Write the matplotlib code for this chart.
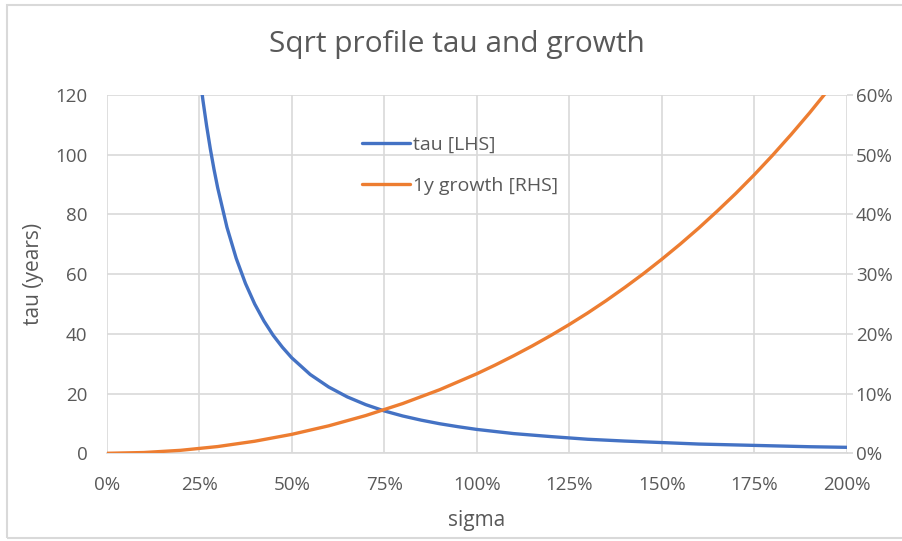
import matplotlib
matplotlib.use("Agg")
import matplotlib.pyplot as plt
from matplotlib.ticker import FuncFormatter, MultipleLocator
from matplotlib.patches import Rectangle

# ---- data ----
tau_sigma = [0.25, 0.26, 0.27, 0.28, 0.29, 0.30, 0.325, 0.35, 0.375, 0.40, 0.425, 0.45, 0.475,
             0.50, 0.55, 0.60, 0.65, 0.70, 0.75, 0.80, 0.85, 0.90, 0.95, 1.00, 1.10, 1.20,
             1.30, 1.40, 1.50, 1.60, 1.70, 1.80, 1.90, 2.00]
tau_values = [128.0, 118.3, 109.7, 102.0, 95.1, 88.9, 75.7, 65.3, 56.9, 50.0, 44.3, 39.5, 35.5,
              32.0, 26.4, 22.2, 18.9, 16.3, 14.2, 12.5, 11.1, 9.9, 8.9, 8.0, 6.6, 5.6,
              4.7, 4.1, 3.6, 3.1, 2.8, 2.5, 2.2, 2.0]

growth_sigma = [0.0, 0.1, 0.2, 0.3, 0.4, 0.5, 0.6, 0.7, 0.8, 0.9, 1.0, 1.05, 1.1, 1.15, 1.2,
                1.25, 1.3, 1.35, 1.4, 1.45, 1.5, 1.55, 1.6, 1.65, 1.7, 1.75, 1.8, 1.85,
                1.9, 1.95, 2.0]
growth_values = [0.0, 0.0013, 0.0050, 0.0113, 0.0202, 0.0317, 0.0460, 0.0632, 0.0833, 0.1065,
                 0.1331, 0.1478, 0.1634, 0.1798, 0.1972, 0.2156, 0.2350, 0.2557, 0.2776,
                 0.3005, 0.3248, 0.3503, 0.3771, 0.4055, 0.4350, 0.4663, 0.4993, 0.5340,
                 0.5703, 0.6086, 0.6487]

title = "Sqrt profile tau and growth"
x_label = "sigma"
y_label = "tau (years)"
tau_label = "tau [LHS]"
growth_label = "1y growth [RHS]"

BLUE = "#4472C4"
ORANGE = "#ED7D31"
GRID = "#D9D9D9"
TXT = "#595959"

plt.rcParams['font.family'] = ['Open Sans', 'DejaVu Sans']

fig = plt.figure(figsize=(9.02, 5.41), dpi=100)
W, H = 902, 541
ax = fig.add_axes([106.7 / W, 1 - 453.3 / H, (846.7 - 106.7) / W, (453.3 - 95) / H])
ax2 = ax.twinx()

# figure frame
fig.patches.append(Rectangle((7 / W, 1 - 538 / H), (910 - 7) / W, (538 - 5) / H,
                             transform=fig.transFigure, fill=False, edgecolor=GRID, lw=1.5))

ax.set_xlim(0, 2)
ax.set_ylim(0, 120)
ax2.set_ylim(0, 0.6)

ax.xaxis.set_major_locator(MultipleLocator(0.25))
ax.yaxis.set_major_locator(MultipleLocator(20))
ax2.yaxis.set_major_locator(MultipleLocator(0.1))
ax.xaxis.set_major_formatter(FuncFormatter(lambda v, p: f"{v*100:.0f}%"))
ax2.yaxis.set_major_formatter(FuncFormatter(lambda v, p: f"{v*100:.0f}%"))

ax.grid(True, color=GRID, lw=1.2)
ax.set_axisbelow(True)
for a in (ax, ax2):
    for s in a.spines.values():
        s.set_visible(False)
ax.spines['bottom'].set_visible(True)
ax.spines['bottom'].set_color(GRID)
ax.spines['bottom'].set_linewidth(1.2)

FS = 13.5
ax.tick_params(axis='x', length=0, pad=16, labelsize=FS, labelcolor=TXT)
ax.tick_params(axis='y', length=0, pad=14, labelsize=FS, labelcolor=TXT)
ax2.tick_params(axis='y', length=4.5, width=1.2, color=GRID, pad=2, labelsize=FS, labelcolor=TXT)

l1, = ax.plot(tau_sigma, tau_values, color=BLUE, lw=2.4, clip_on=True, solid_capstyle='round')
l2, = ax2.plot(growth_sigma, growth_values, color=ORANGE, lw=2.4, clip_on=True, solid_capstyle='round')

ax.set_xlabel(x_label, fontsize=15, color=TXT, labelpad=12)
ax.set_ylabel(y_label, fontsize=15, color=TXT, labelpad=8)

fig.text(457 / W, 1 - 45 / H, title, ha='center', va='center', fontsize=21.5, color=TXT)

leg = ax.legend([l1, l2], [tau_label, growth_label], loc='upper left',
                bbox_to_anchor=((354 - 106.7) / 740, (453.3 - 128) / 358.3),
                frameon=False, fontsize=14, labelcolor=TXT, handlelength=2.5,
                handletextpad=0.15, labelspacing=1.2, borderaxespad=0)

fig.savefig("out.png", dpi=100)
